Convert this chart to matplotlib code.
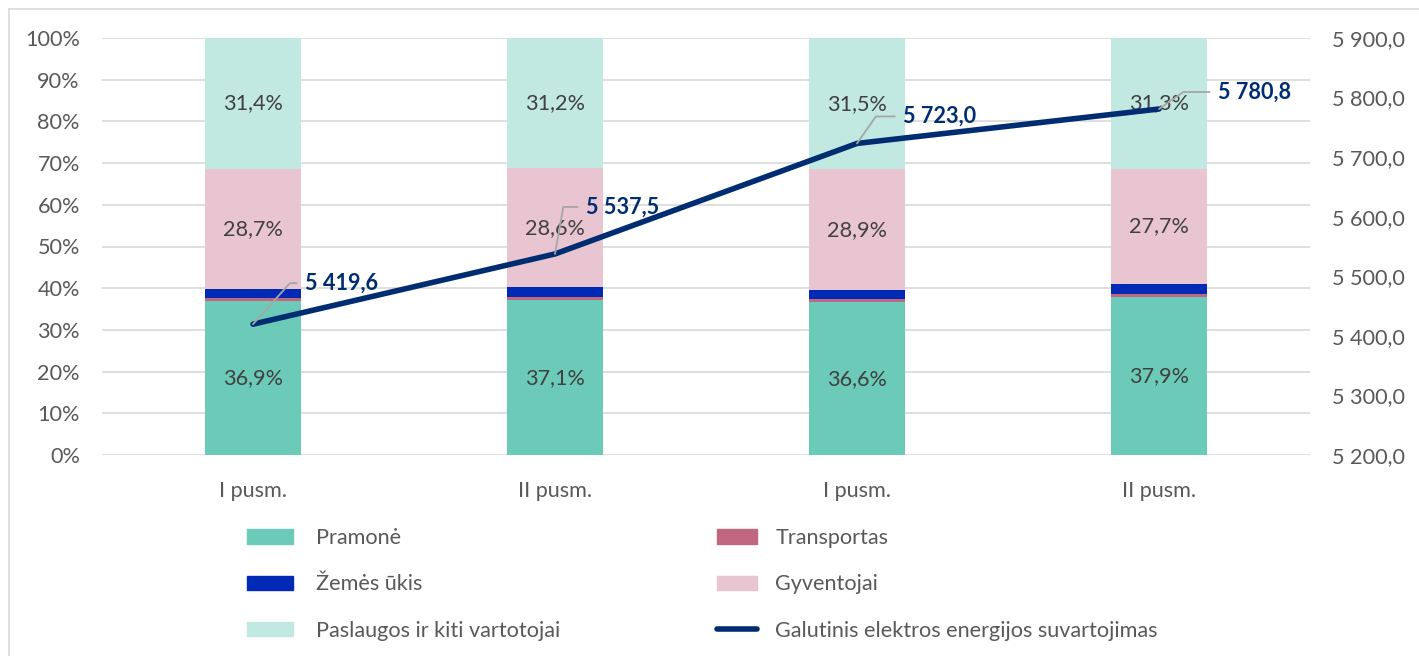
import matplotlib.pyplot as plt
from matplotlib.lines import Line2D
from matplotlib.patches import Patch
import numpy as np

# data
periods = ['I pusm.', 'II pusm.', 'I pusm.', 'II pusm.']
pramone = [36.9, 37.1, 36.6, 37.9]
transportas = [0.8, 0.8, 0.7, 0.8]
zemes_ukis = [2.2, 2.3, 2.3, 2.3]
gyventojai = [28.7, 28.6, 28.9, 27.7]
paslaugos = [31.4, 31.2, 31.5, 31.3]
suvartojimas = [5419.6, 5537.5, 5723.0, 5780.8]

series = [
    ('Pramonė', pramone, '#6CCBB8', True),
    ('Transportas', transportas, '#C1667F', False),
    ('Žemės ūkis', zemes_ukis, '#0029B5', False),
    ('Gyventojai', gyventojai, '#E8C5D1', True),
    ('Paslaugos ir kiti vartotojai', paslaugos, '#C2E9E1', True),
]
line_col = '#002D72'
txt_col = '#595959'

plt.rcParams['font.family'] = ['Lato', 'DejaVu Sans']
fs = 15.6

W, H = 1419, 656
fig = plt.figure(figsize=(W / 100, H / 100), dpi=100)
ax = fig.add_axes([102 / W, 1 - 455 / H, (1310 - 102) / W, (455 - 38) / H])

x = np.arange(len(periods))
bottom = np.zeros(len(periods))
for name, vals, col, show in series:
    vals = np.array(vals)
    ax.bar(x, vals, 0.315, bottom=bottom, color=col, zorder=2)
    if show:
        for xi, b, v in zip(x, bottom, vals):
            ax.text(xi, b + v / 2, f'{v:.1f}%'.replace('.', ','), ha='center', va='center',
                    fontsize=fs, color='#404040', zorder=3)
    bottom += vals

ax.set_xlim(-0.5, 3.5)
ax.set_ylim(0, 100)
ax.set_yticks(np.arange(0, 101, 10))
ax.set_yticklabels([f'{v}%' for v in range(0, 101, 10)])
ax.set_xticks(x)
ax.set_xticklabels(periods)
ax.grid(axis='y', color='#D9D9D9', lw=1.2, zorder=0)
ax.set_axisbelow(True)
for s in ax.spines.values():
    s.set_visible(False)
ax.tick_params(length=0, labelsize=fs, labelcolor=txt_col, pad=16)
ax.tick_params(axis='x', pad=19)

ax2 = ax.twinx()
ax2.set_ylim(5200, 5900)
ax2.set_yticks(np.arange(5200, 5901, 100))
ax2.set_yticklabels([f'{v:,.1f}'.replace(',', ' ').replace('.', ',') for v in range(5200, 5901, 100)])
for s in ax2.spines.values():
    s.set_visible(False)
ax2.tick_params(length=0, labelsize=fs, labelcolor=txt_col, pad=16)
ax2.plot(x, suvartojimas, color=line_col, lw=4, solid_capstyle='round', zorder=4)

# label offsets (px) and leader angles
offs = [(52, 41, 48), (31, 47, 80), (46, 27, 55), (59, 17, 35)]
for xi, v, (dx, dy, ang) in zip(x, suvartojimas, offs):
    ax2.annotate(f'{v:,.1f}'.replace(',', ' ').replace('.', ','), xy=(xi, v),
                 xytext=(dx * 0.72, dy * 0.72), textcoords='offset points',
                 ha='left', va='center', fontsize=fs, fontweight='bold', color=line_col,
                 arrowprops=dict(arrowstyle='-', color='#A6A6A6', lw=1.3, relpos=(0, 0.5),
                                 shrinkA=4, shrinkB=0,
                                 connectionstyle=f'angle,angleA=0,angleB={ang},rad=0'),
                 zorder=5)

# legend, two columns
h1 = [Patch(color=series[0][2]), Patch(color=series[2][2]), Patch(color=series[4][2])]
l1 = [series[0][0], series[2][0], series[4][0]]
h2 = [Patch(color=series[1][2]), Patch(color=series[3][2]),
      Line2D([], [], color=line_col, lw=4, solid_capstyle='round')]
l2 = [series[1][0], series[3][0], 'Galutinis elektros energijos suvartojimas']
kw = dict(loc='upper left', frameon=False, fontsize=fs, borderpad=0, borderaxespad=0,
          handleheight=0.65, labelspacing=1.22, labelcolor=txt_col)
fig.legend(h1, l1, bbox_to_anchor=(247 / W, 1 - 528 / H), handlelength=2.1,
           handletextpad=1.1, **kw)
fig.legend(h2, l2, bbox_to_anchor=(717 / W, 1 - 528 / H), handlelength=1.85,
           handletextpad=0.85, **kw)

# outer frame (top/left visible in reference)
fig.add_artist(Line2D([9 / W, 1], [1 - 9 / H, 1 - 9 / H], color='#D9D9D9', lw=1.2))
fig.add_artist(Line2D([9 / W, 9 / W], [0, 1 - 9 / H], color='#D9D9D9', lw=1.2))

fig.savefig('out.png', dpi=100)
